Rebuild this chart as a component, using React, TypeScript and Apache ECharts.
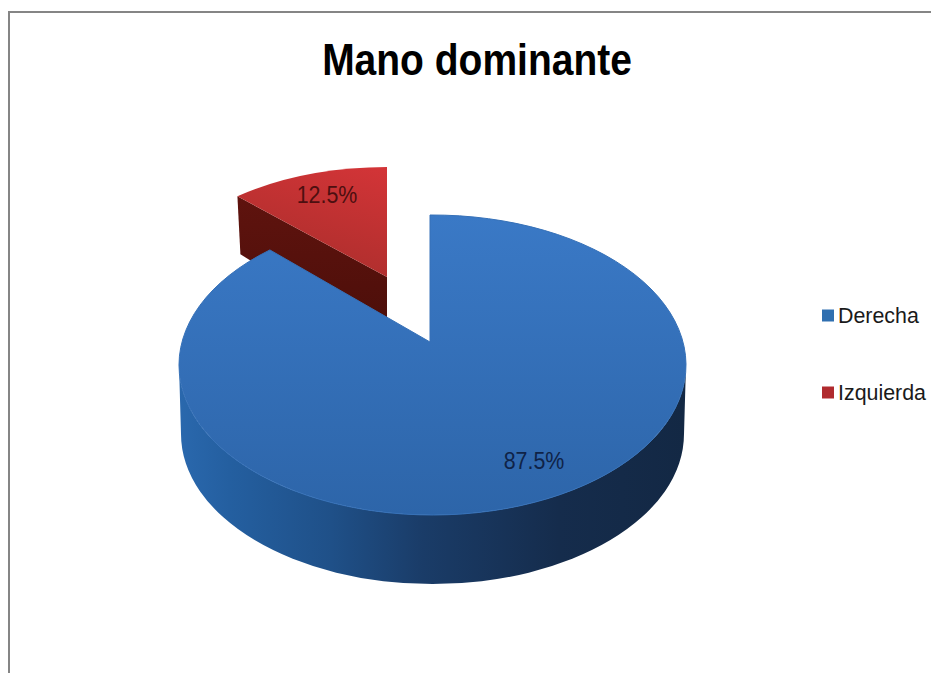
import React, { useEffect, useRef } from "react";
import * as echarts from "echarts";

const titleText = "Mano dominante";
const categories = ["Derecha", "Izquierda"];
const shares = [87.5, 12.5];
const legendColors = ["#2f6fb0", "#b02a2e"];

const total = shares[0] + shares[1];
const sans = "'Liberation Sans', Arial, sans-serif";

type Geo = { ax: number; ay: number; cx: number; cy: number; rx: number; ry: number; k: number };
const blueGeo: Geo = { ax: 430, ay: 342, cx: 432.5, cy: 365, rx: 253.5, ry: 150, k: 0.575 };
const redGeo: Geo = { ax: 387, ay: 277, cx: 389, cy: 297, rx: 240, ry: 130, k: 0.54 };
const depth = 69;
const redCornerDepth = 58;

function rim(g: Geo, deg: number): [number, number] {
  const t = (deg * Math.PI) / 180;
  const dx = Math.sin(t);
  const dy = -Math.cos(t) * g.k;
  const ox = (g.ax - g.cx) / g.rx;
  const oy = (g.ay - g.cy) / g.ry;
  const ux = dx / g.rx;
  const uy = dy / g.ry;
  const a = ux * ux + uy * uy;
  const b = 2 * (ox * ux + oy * uy);
  const c = ox * ox + oy * oy - 1;
  const s = (-b + Math.sqrt(b * b - 4 * a * c)) / (2 * a);
  return [g.ax + s * dx, g.ay + s * dy];
}

function topFace(g: Geo, from: number, to: number) {
  const p0 = rim(g, from);
  const p1 = rim(g, to);
  const large = to - from > 180 ? 1 : 0;
  return `M${g.ax} ${g.ay}L${p0[0]} ${p0[1]}A${g.rx} ${g.ry} 0 ${large} 1 ${p1[0]} ${p1[1]}Z`;
}

const vGrad = (a: string, b: string) => ({
  type: "linear", x: 0, y: 0, x2: 0, y2: 1,
  colorStops: [{ offset: 0, color: a }, { offset: 1, color: b }],
});

function renderBlue(_p: any, api: any) {
  const v = api.value(0);
  const end = (v / total) * 360;
  const g = blueGeo;
  const side = `M${g.cx - g.rx} ${g.cy}A${g.rx} ${g.ry} 0 0 0 ${g.cx + g.rx} ${g.cy}L${g.cx + g.rx - 2} ${g.cy + depth}A${g.rx - 2} ${g.ry} 0 0 1 ${g.cx - g.rx + 2} ${g.cy + depth}Z`;
  return {
    type: "group",
    children: [
      {
        type: "path",
        shape: { pathData: side },
        style: {
          fill: {
            type: "linear", x: 0, y: 0, x2: 1, y2: 0,
            colorStops: [
              { offset: 0, color: "#2a68ad" },
              { offset: 0.1, color: "#245fa0" },
              { offset: 0.3, color: "#1f5088" },
              { offset: 0.48, color: "#1a3c68" },
              { offset: 0.75, color: "#152c4c" },
              { offset: 1, color: "#132844" },
            ],
          },
        },
      },
      {
        type: "path",
        shape: { pathData: topFace(g, 0, end) },
        style: { fill: vGrad("#3a79c6", "#2d65a9"), stroke: "#3671b8", lineWidth: 1 },
      },
      {
        type: "text",
        x: 534,
        y: 460,
        scaleY: 1.15,
        style: {
          x: 0, y: 0, text: `${v.toFixed(1)}%`, fill: "#0f2347",
          font: `21.4px ${sans}`, align: "center", verticalAlign: "middle",
        },
      },
    ],
  };
}

function renderRed(_p: any, api: any) {
  const v = api.value(0);
  const from = 360 - (v / total) * 360;
  const g = redGeo;
  const corner = rim(g, from);
  const side = `M${corner[0]} ${corner[1]}L${g.ax} ${g.ay}L${g.ax} ${g.ay + depth}L${corner[0] + 3} ${corner[1] + redCornerDepth}Z`;
  return {
    type: "group",
    children: [
      {
        type: "path",
        shape: { pathData: side },
        style: { fill: vGrad("#5f130e", "#4a0e09") },
      },
      {
        type: "path",
        shape: { pathData: topFace(g, from, 360) },
        style: {
          fill: {
            type: "linear", x: 0.9, y: 0, x2: 0.5, y2: 1,
            colorStops: [{ offset: 0, color: "#d23437" }, { offset: 1, color: "#ab2e2c" }],
          },
        },
      },
      {
        type: "text",
        x: 327,
        y: 194,
        scaleY: 1.15,
        style: {
          x: 0, y: 0, text: `${v.toFixed(1)}%`, fill: "#4d0f10",
          font: `21.4px ${sans}`, align: "center", verticalAlign: "middle",
        },
      },
    ],
  };
}

export default function App() {
  const ref = useRef<HTMLDivElement>(null);
  useEffect(() => {
    document.body.style.margin = "0";
    const chart = echarts.init(ref.current!, undefined, { renderer: "svg" });
    chart.setOption({
      animation: false,
      backgroundColor: "#ffffff",
      legend: {
        orient: "vertical",
        left: 817,
        top: 300,
        itemWidth: 12,
        itemHeight: 12,
        itemGap: 56,
        icon: "rect",
        data: categories,
        textStyle: {
          fontFamily: sans,
          fontSize: 21.4,
          color: "#1a1a1a",
          padding: [0, 0, 0, -1],
        },
      },
      graphic: [
        { type: "line", shape: { x1: 9, y1: 12, x2: 9, y2: 673 }, style: { stroke: "#858585", lineWidth: 2 } },
        { type: "line", shape: { x1: 8, y1: 12, x2: 931, y2: 12 }, style: { stroke: "#858585", lineWidth: 2 } },
        {
          type: "text",
          x: 477,
          y: 60,
          scaleY: 1.15,
          style: {
            text: titleText,
            fill: "#000000",
            font: `bold 39px ${sans}`,
            align: "center",
            verticalAlign: "middle",
          },
        },
      ],
      series: [
        {
          type: "custom",
          name: categories[1],
          coordinateSystem: "none",
          itemStyle: { color: legendColors[1] },
          renderItem: renderRed,
          data: [[shares[1]]],
          z: 2,
        },
        {
          type: "custom",
          name: categories[0],
          coordinateSystem: "none",
          itemStyle: { color: legendColors[0] },
          renderItem: renderBlue,
          data: [[shares[0]]],
          z: 3,
        },
      ],
    });
    return () => chart.dispose();
  }, []);
  return <div ref={ref} style={{ width: 931, height: 673 }} />;
}
